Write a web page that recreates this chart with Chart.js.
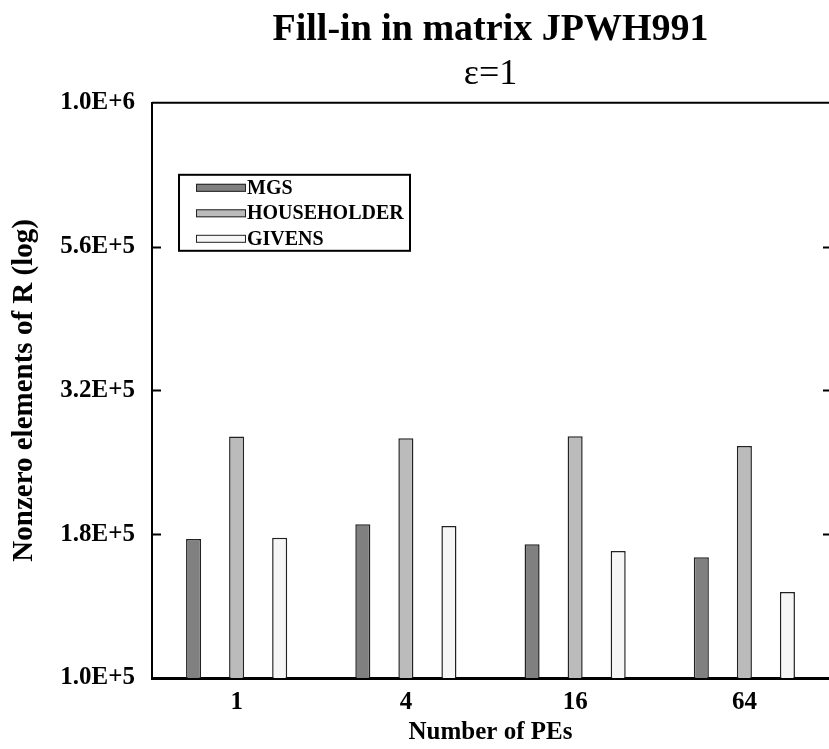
<!DOCTYPE html>
<html>
<head>
<meta charset="utf-8">
<title>Fill-in in matrix JPWH991</title>
<script src="https://cdn.jsdelivr.net/npm/chart.js@4.4.1/dist/chart.umd.min.js"></script>
<style>
    html, body { margin: 0; padding: 0; background: #fff; }
    #wrap { width: 829px; height: 749px; position: relative; }
</style>
</head>
<body>
<div id="wrap"><canvas id="fillChart"></canvas></div>
<script>
// Data
const categories = ['1', '4', '16', '64'];
const mgsValues = [174500, 185100, 170800, 162200];
const householderValues = [262900, 261200, 263300, 253200];
const givensValues = [175400, 183800, 166300, 141100];

// log axis ticks (quarter decades)
const yTickValues = [100000, 177828, 316228, 562341, 1000000];
const yTickLabels = ['1.0E+5', '1.8E+5', '3.2E+5', '5.6E+5', '1.0E+6'];

const serif = '"Liberation Serif", "Times New Roman", serif';

// draws inner tick marks, the top frame line and the boxed legend
const framePlugin = {
    id: 'frame',
    afterDraw(chart) {
        const ctx = chart.ctx;
        const area = chart.chartArea;
        const y = chart.scales.y;

        ctx.save();
        ctx.strokeStyle = '#000';

        // top border
        ctx.lineWidth = 2;
        ctx.beginPath();
        ctx.moveTo(area.left, area.top);
        ctx.lineTo(area.right, area.top);
        ctx.stroke();

        // inner ticks, left and right
        ctx.lineWidth = 2;
        yTickValues.slice(1, -1).forEach(v => {
            const py = Math.round(y.getPixelForValue(v)) + 0.5;
            ctx.beginPath();
            ctx.moveTo(area.left, py);
            ctx.lineTo(area.left + 9, py);
            ctx.moveTo(area.right - 6, py);
            ctx.lineTo(area.right, py);
            ctx.stroke();
        });

        // legend
        const lx = area.left + 27;
        const ly = area.top + 72;
        const lw = 231;
        const lh = 76;
        ctx.lineWidth = 2;
        ctx.strokeRect(lx, ly, lw, lh);

        ctx.font = 'bold 20px ' + serif;
        ctx.textBaseline = 'middle';
        ctx.textAlign = 'left';
        chart.data.datasets.forEach((ds, i) => {
            const rowY = ly + 13 + i * 25.5;
            ctx.fillStyle = ds.backgroundColor;
            ctx.fillRect(lx + 17, rowY - 4, 50, 8);
            ctx.lineWidth = 1;
            ctx.strokeStyle = '#222';
            ctx.strokeRect(lx + 17.5, rowY - 3.5, 49, 7);
            ctx.fillStyle = '#000';
            ctx.fillText(ds.label, lx + 68, rowY + 1);
        });
        ctx.restore();
    }
};

const ctx = document.getElementById('fillChart');

new Chart(ctx, {
    type: 'bar',
    data: {
        labels: categories,
        datasets: [
            {
                label: 'MGS',
                data: mgsValues,
                backgroundColor: '#808080',
                borderColor: '#222',
                borderWidth: 1.5
            },
            {
                label: 'HOUSEHOLDER',
                data: householderValues,
                backgroundColor: '#bbbbbb',
                borderColor: '#222',
                borderWidth: 1.5
            },
            {
                label: 'GIVENS',
                data: givensValues,
                backgroundColor: '#f6f6f6',
                borderColor: '#222',
                borderWidth: 1.5
            }
        ]
    },
    options: {
        responsive: true,
        maintainAspectRatio: false,
        animation: false,
        devicePixelRatio: 1,
        categoryPercentage: 0.763,
        barPercentage: 0.35,
        layout: { padding: 0 },
        plugins: {
            legend: { display: false },
            tooltip: { enabled: false },
            title: {
                display: true,
                text: 'Fill-in in matrix JPWH991',
                fullSize: false,
                color: '#000',
                font: { family: serif, size: 38, weight: 'bold', lineHeight: 1.2 },
                padding: { top: 7, bottom: 0 }
            },
            subtitle: {
                display: true,
                text: 'ε=1',
                fullSize: false,
                color: '#000',
                font: { family: serif, size: 36, weight: 'normal', lineHeight: 1.2 },
                padding: { top: 0, bottom: 7 }
            }
        },
        scales: {
            x: {
                grid: { display: false },
                border: { display: true, color: '#000', width: 3 },
                ticks: {
                    color: '#000',
                    padding: 2,
                    font: { family: serif, size: 25, weight: 'bold' }
                },
                title: {
                    display: true,
                    text: 'Number of PEs',
                    color: '#000',
                    padding: { top: 0, bottom: 1 },
                    font: { family: serif, size: 25, weight: 'bold' }
                },
                afterFit(scale) { scale.height = 71; }
            },
            y: {
                type: 'logarithmic',
                min: 100000,
                max: 1000000,
                grid: { display: false, drawTicks: false },
                border: { display: true, color: '#000', width: 2 },
                afterBuildTicks(scale) {
                    scale.ticks = yTickValues.map(v => ({ value: v }));
                },
                ticks: {
                    color: '#000',
                    padding: 17,
                    autoSkip: false,
                    font: { family: serif, size: 25, weight: 'bold' },
                    callback: (value, index) => yTickLabels[index]
                },
                title: {
                    display: true,
                    text: 'Nonzero elements of R (log)',
                    color: '#000',
                    padding: { top: 7, bottom: 0 },
                    font: { family: serif, size: 29, weight: 'bold' }
                },
                afterFit(scale) { scale.width = 152; }
            }
        }
    },
    plugins: [framePlugin]
});
</script>
</body>
</html>
